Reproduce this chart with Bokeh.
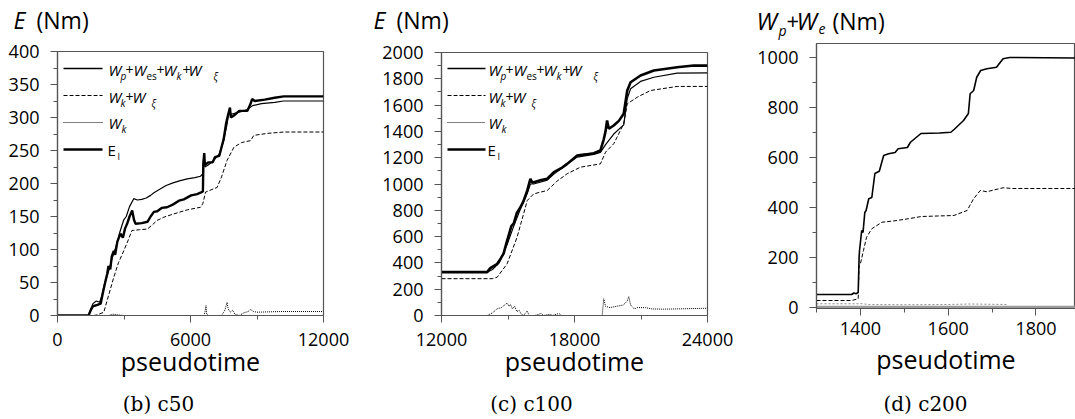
from bokeh.plotting import figure
from bokeh.layouts import row, column
from bokeh.models import Label, FixedTicker, Range1d
from bokeh.embed import file_html
from bokeh.resources import INLINE

# ---------------- data: panel (b) c50 ----------------
b_total_x = [0, 1400, 1500, 1600, 1750, 1900, 2000, 2100, 2240, 2350, 2450, 2550, 2690, 2800, 2990, 3100, 3250,
             3440, 3600, 3800, 4000, 4200, 4350, 4650, 4900, 5210, 5500, 5850, 6200, 6450, 6560, 6600, 6650,
             6800, 7050, 7300, 7500, 7650, 7730, 7850, 7960, 8200, 8560, 8800, 9200, 9800, 10200, 12000]
b_total_y = [0, 0, 10, 18, 22, 20, 30, 45, 60, 72, 85, 95, 110, 125, 145, 150, 165,
             177, 175, 176, 178, 182, 186, 192, 197, 201, 204, 207, 209, 211, 215, 246, 225,
             228, 235, 245, 265, 290, 308, 305, 306, 308, 312, 318, 321, 323, 325, 325]
b_ei_x = [0, 1400, 1500, 1600, 1800, 1950, 2050, 2150, 2240, 2300, 2380, 2450, 2540, 2600, 2700, 2840, 2950,
          3050, 3140, 3250, 3370, 3450, 3520, 3800, 4060, 4200, 4350, 4500, 4700, 4940, 5200, 5480, 5700,
          6030, 6300, 6450, 6560, 6580, 6620, 6650, 6800, 7000, 7100, 7300, 7400, 7500, 7600, 7700, 7780,
          7820, 7960, 8200, 8560, 8700, 8780, 8900, 9350, 9800, 10210, 12000]
b_ei_y = [0, 0, 8, 14, 16, 18, 35, 50, 63, 75, 70, 90, 98, 92, 112, 124, 118,
          132, 139, 150, 159, 145, 139, 140, 142, 150, 157, 158, 163, 164, 168, 174, 176,
          182, 184, 186, 188, 230, 246, 228, 232, 232, 240, 242, 255, 268, 290, 305, 315,
          300, 303, 310, 310, 320, 328, 325, 327, 330, 332, 332]
b_kxi_x = [0, 1640, 1800, 2090, 2300, 2540, 2750, 2990, 3200, 3360, 3440, 3700, 4060, 4300, 4490, 4800, 5250,
           5850, 6450, 6560, 6680, 7200, 7400, 7650, 7960, 8300, 8710, 8860, 9500, 10210, 12000]
b_kxi_y = [0, 0, 1, 5, 30, 58, 80, 98, 115, 129, 129, 130, 131, 138, 144, 149, 154,
           160, 164, 170, 187, 194, 210, 235, 255, 262, 265, 273, 276, 278, 278]
b_k_x = [0, 2300, 2500, 2700, 3000, 6600, 6650, 6700, 6730, 6800, 7400, 7550, 7650, 7700, 7800, 7900, 8000,
         8200, 8400, 8600, 8710, 8850, 9000, 10000, 12000]
b_k_y = [0, 0, 2, 1, 0, 0, 5, 15, 2, 0, 0, 8, 20, 10, 5, 8, 2,
         0, 4, 6, 9, 6, 5, 6, 6]

# ---------------- data: panel (c) c100 ----------------
c_ei_x = [12000, 14060, 14200, 14500, 14660, 14800, 14960, 15050, 15150, 15260, 15400, 15560, 15700, 15870,
          16010, 16100, 16160, 16500, 16770, 17070, 17400, 17670, 18120, 18500, 18870, 19170, 19320, 19400,
          19470, 19550, 19770, 20000, 20220, 20380, 20530, 20980, 21580, 22630, 23380, 24000]
c_ei_y = [330, 330, 360, 390, 430, 470, 570, 620, 680, 700, 780, 823, 870, 951,
          1040, 1010, 1014, 1030, 1040, 1090, 1120, 1153, 1217, 1225, 1234, 1255, 1340, 1400,
          1483, 1420, 1445, 1480, 1534, 1711, 1774, 1825, 1863, 1888, 1901, 1900]
c_total_x = [12000, 14060, 14300, 14600, 14960, 15260, 15560, 15870, 16010, 16160, 16770, 17070, 17670,
             18120, 18870, 19170, 19400, 19770, 20220, 20380, 20530, 20980, 21580, 22630, 24000]
c_total_y = [330, 330, 350, 400, 540, 680, 810, 930, 1000, 1000, 1030, 1075, 1150,
             1205, 1225, 1240, 1300, 1380, 1450, 1650, 1724, 1780, 1812, 1843, 1845]
c_kxi_x = [12000, 14290, 14510, 14960, 15410, 15870, 16160, 16770, 17200, 17670, 18270, 19170, 19400,
           19770, 19920, 20220, 20380, 20830, 21430, 22630, 24000]
c_kxi_y = [280, 280, 291, 393, 595, 875, 925, 951, 1020, 1078, 1128, 1153, 1242,
           1306, 1356, 1458, 1610, 1660, 1711, 1742, 1742]
c_k_x = [12000, 14060, 14300, 14510, 14700, 14960, 15050, 15110, 15200, 15300, 15400, 15500, 15600, 15700,
         15870, 15950, 16200, 16500, 16600, 16900, 17000, 17300, 17400, 17800, 18900, 19250, 19320, 19400,
         19600, 19900, 20200, 20380, 20450, 20530, 20700, 20830, 21200, 21500, 22000, 24000]
c_k_y = [0, 0, 20, 51, 60, 94, 70, 85, 50, 70, 30, 40, 10, 0,
         35, 0, 0, 15, 0, 10, 0, 15, 0, 0, 0, 0, 127, 70,
         60, 70, 80, 110, 144, 80, 50, 60, 60, 50, 48, 55]

# ---------------- data: panel (d) c200 ----------------
d_pe_x = [1300, 1380, 1385, 1390, 1395, 1397, 1398, 1403, 1406, 1410, 1413, 1419, 1426, 1433, 1443, 1453,
          1464, 1479, 1486, 1507, 1514, 1538, 1580, 1606, 1614, 1635, 1646, 1650, 1658, 1665, 1674, 1688,
          1710, 1725, 1740, 1890]
d_pe_y = [52, 52, 58, 55, 60, 200, 228, 308, 300, 380, 388, 435, 440, 536, 545, 608,
          615, 620, 635, 640, 661, 696, 698, 701, 713, 748, 776, 855, 868, 921, 948, 955,
          961, 995, 1000, 998]
d_e_x = [1300, 1380, 1395, 1397, 1400, 1407, 1414, 1426, 1449, 1479, 1509, 1539, 1613, 1643, 1658, 1673,
         1688, 1725, 1747, 1890]
d_e_y = [28, 28, 35, 170, 175, 228, 281, 315, 341, 347, 355, 364, 368, 388, 435, 468,
         463, 479, 476, 476]
d_k_x = [1300, 1396, 1398, 1420, 1500, 1600, 1650, 1733]
d_k_y = [15, 15, 16, 12, 11, 12, 14, 12]
d_base_x = [1300, 1890]
d_base_y = [2, 2]

# ---------------- ticks ----------------
b_xticks, b_xminor = [0, 6000, 12000], [3000, 9000]
b_yticks = [0, 50, 100, 150, 200, 250, 300, 350, 400]
b_yminor = [25, 75, 125, 175, 225, 275, 325, 375]
c_xticks, c_xminor = [12000, 18000, 24000], [15000, 21000]
c_yticks = [0, 200, 400, 600, 800, 1000, 1200, 1400, 1600, 1800, 2000]
c_yminor = [100, 300, 500, 700, 900, 1100, 1300, 1500, 1700, 1900]
d_xticks, d_xminor = [1400, 1600, 1800], [1300, 1500, 1700]
d_yticks = [0, 200, 400, 600, 800, 1000]
d_yminor = [100, 300, 500, 700, 900]

captions = ["(b) c50", "(c) c100", "(d) c200"]

FONT = "Open Sans"
SERIF = "DejaVu Serif"
METRICS = {FONT: (1.069, 0.293), SERIF: (0.928, 0.236)}   # ascent, descent (em)
AX = "#555555"
MID_END = 391  # page y where the plot row ends
BOT = 419 - MID_END


class Geo:
    """frame box in page px and data ranges -> map page px to data"""
    def __init__(self, off, top, fl, fr, ft, fb, xr, yr):
        self.off, self.top = off, top
        self.fl, self.fr, self.ft, self.fb, self.xr, self.yr = fl, fr, ft, fb, xr, yr

    def d(self, px, py):
        x = self.xr[0] + (px - self.fl) / (self.fr - self.fl) * (self.xr[1] - self.xr[0])
        y = self.yr[0] + (self.fb - py) / (self.fb - self.ft) * (self.yr[1] - self.yr[0])
        return x, y


def no_align(p):
    if "frame_align" in p.properties():
        p.frame_align = False


def make_fig(g, width, xt, xm, yt, ym, tick_standoff=10, label_standoff=-5):
    p = figure(width=width, height=MID_END - g.top, output_backend="svg", toolbar_location=None,
               title=None,
               x_range=Range1d(*g.xr), y_range=Range1d(*g.yr),
               min_border_left=g.fl - g.off, min_border_right=g.off + width - g.fr,
               min_border_top=g.ft - g.top, min_border_bottom=MID_END - g.fb)
    no_align(p)
    p.grid.visible = False
    p.outline_line_color = AX
    p.outline_line_width = 1.2
    p.background_fill_color = "white"
    p.border_fill_color = "white"
    p.xaxis.ticker = FixedTicker(ticks=xt, minor_ticks=xm)
    p.yaxis.ticker = FixedTicker(ticks=yt, minor_ticks=ym)
    for ax in (p.xaxis, p.yaxis):
        ax.axis_line_color = AX
        ax.axis_line_width = 1.2
        ax.major_tick_line_color = AX
        ax.minor_tick_line_color = AX
        ax.major_tick_out = 7
        ax.major_tick_in = 0
        ax.minor_tick_out = 4
        ax.minor_tick_in = 0
        ax.major_label_text_font = FONT
        ax.major_label_text_font_size = "18px"
        ax.major_label_text_color = "black"
    p.yaxis.major_label_standoff = 11
    p.xaxis.major_label_standoff = tick_standoff
    p.xaxis.axis_label = "pseudotime"
    p.xaxis.axis_label_text_font = FONT
    p.xaxis.axis_label_text_font_size = "25px"
    p.xaxis.axis_label_text_font_style = "normal"
    p.xaxis.axis_label_text_color = "black"
    p.xaxis.axis_label_standoff = label_standoff
    return p


def strip(width, height, x0, y0):
    s = figure(width=width, height=height, output_backend="svg", toolbar_location=None, title=None,
               x_range=Range1d(x0, x0 + width), y_range=Range1d(y0 + height, y0),
               x_axis_location=None, y_axis_location=None, min_border=0)
    no_align(s)
    s.grid.visible = False
    s.outline_line_color = None
    s.background_fill_color = "white"
    s.border_fill_color = "white"
    return s


def lab(p, g, px, base, text, size, style="normal", font=FONT, align="left"):
    """place text so that its baseline sits at page y = base (anchor = middle of the text box)"""
    asc, desc = METRICS[font]
    cy = base - (asc - desc) / 2 * size
    x, y = g.d(px, cy) if g is not None else (px, cy)
    p.add_layout(Label(x=x, y=y, text=text, text_font=font, text_font_size=f"{size}px",
                       text_font_style=style, text_align=align, text_baseline="middle",
                       text_color="black"))


def legend(p, g, lx0, lx1, tx):
    rows = [68, 95, 122, 149]
    styles = [dict(line_width=1.3), dict(line_width=1.1, line_dash="4 2"),
              dict(line_width=1.0, line_dash="1 1"), dict(line_width=2.6)]
    for yy, st in zip(rows, styles):
        xa, ya = g.d(lx0, yy)
        xb, _ = g.d(lx1, yy)
        p.line([xa, xb], [ya, ya], color="black", **st)
    t = tx
    b = rows[0] + 7
    lab(p, g, t, b, "W", 15, "italic"); lab(p, g, t + 12, b + 4, "p", 10, "italic")
    lab(p, g, t + 17, b, "+", 14)
    lab(p, g, t + 25, b, "W", 15, "italic"); lab(p, g, t + 38, b + 4, "es", 10)
    lab(p, g, t + 48, b, "+", 14)
    lab(p, g, t + 55, b, "W", 15, "italic"); lab(p, g, t + 68, b + 4, "k", 10, "italic")
    lab(p, g, t + 74, b, "+", 14)
    lab(p, g, t + 80, b, "W", 15, "italic"); lab(p, g, t + 105, b + 4, "ξ", 10, "italic")
    b = rows[1] + 7
    lab(p, g, t, b, "W", 15, "italic"); lab(p, g, t + 12, b + 4, "k", 10, "italic")
    lab(p, g, t + 17, b, "+", 14)
    lab(p, g, t + 24, b, "W", 15, "italic"); lab(p, g, t + 43, b + 4, "ξ", 10, "italic")
    b = rows[2] + 6
    lab(p, g, t, b, "W", 15, "italic"); lab(p, g, t + 13, b + 4, "k", 10, "italic")
    b = rows[3] + 6
    lab(p, g, t - 1, b, "E", 15); lab(p, g, t + 9, b + 4, "I", 9)


# ---------- panel b ----------
gb = Geo(0, 36, 57, 323, 51, 315, (0, 12000), (0, 400))
pb = make_fig(gb, 360, b_xticks, b_xminor, b_yticks, b_yminor)
pb.line(b_total_x, b_total_y, color="black", line_width=1.2)
pb.line(b_kxi_x, b_kxi_y, color="black", line_width=1.0, line_dash="4 2")
pb.line(b_k_x, b_k_y, color="black", line_width=1.0, line_dash="1 1")
pb.line(b_ei_x, b_ei_y, color="black", line_width=2.4)
legend(pb, gb, 63, 102, 108)

# ---------- panel c ----------
gc = Geo(360, 36, 441, 707, 52, 315, (12000, 24000), (0, 2000))
pc = make_fig(gc, 375, c_xticks, c_xminor, c_yticks, c_yminor)
pc.line(c_total_x, c_total_y, color="black", line_width=1.2)
pc.line(c_kxi_x, c_kxi_y, color="black", line_width=1.0, line_dash="4 2")
pc.line(c_k_x, c_k_y, color="black", line_width=1.0, line_dash="1 1")
pc.line(c_ei_x, c_ei_y, color="black", line_width=2.6)
legend(pc, gc, 447, 485, 488)

# ---------- panel d ----------
gd = Geo(735, 42, 816, 1075, 43, 308, (1300, 1890), (-4, 1056))
pd_ = make_fig(gd, 340, d_xticks, d_xminor, d_yticks, d_yminor, tick_standoff=6, label_standoff=4)
pd_.line(d_base_x, d_base_y, color="#9a9a9a", line_width=2.5)
pd_.line(d_k_x, d_k_y, color="#8a8a8a", line_width=1.0, line_dash="2 2")
pd_.line(d_e_x, d_e_y, color="black", line_width=1.0, line_dash="4 2")
pd_.line(d_pe_x, d_pe_y, color="black", line_width=1.6)

# ---------- title strips (page coordinates) ----------
tb = strip(360, gb.top, 0, 0)
lab(tb, None, 13, 28, "E", 23, "italic")
lab(tb, None, 36, 28, "(Nm)", 23)
tc = strip(375, gc.top, 360, 0)
lab(tc, None, 373, 28, "E", 23, "italic")
lab(tc, None, 396, 28, "(Nm)", 23)
td = strip(340, gd.top, 735, 0)
lab(td, None, 756, 29, "W", 24, "italic")
lab(td, None, 778, 35, "p", 14, "italic")
lab(td, None, 786, 29, "+", 22)
lab(td, None, 796, 29, "W", 24, "italic")
lab(td, None, 818, 34, "e", 14, "italic")
lab(td, None, 832, 29, "(Nm)", 23)

# ---------- caption strips (page coordinates) ----------
bb = strip(360, BOT, 0, MID_END)
bc = strip(375, BOT, 360, MID_END)
bd = strip(340, BOT, 735, MID_END)
for s, cx, txt in zip([bb, bc, bd], [158, 531, 925], captions):
    lab(s, None, cx, 410, txt, 20, font=SERIF, align="center")

layout = row(column(tb, pb, bb, spacing=0), column(tc, pc, bc, spacing=0),
             column(td, pd_, bd, spacing=0), spacing=0)
open("out.html", "w").write(file_html(layout, INLINE))
